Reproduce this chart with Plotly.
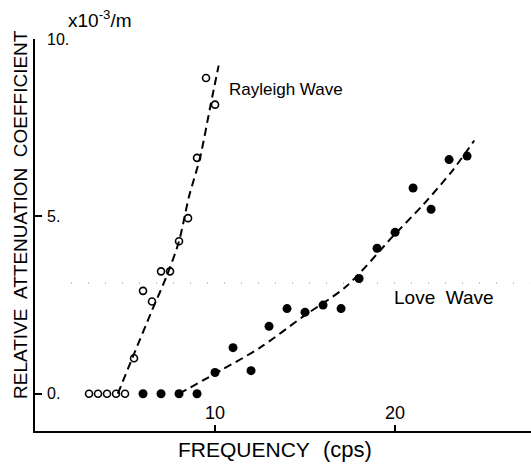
import plotly.graph_objects as go

# Rayleigh wave: measured attenuation (open circles)
rayleigh_freq = [3.0, 3.5, 4.0, 4.5, 5.0, 5.5, 6.0, 6.5, 7.0, 7.5, 8.0, 8.5, 9.0, 9.5, 10.0]
rayleigh_atten = [0.0, 0.0, 0.0, 0.0, 0.0, 1.0, 2.9, 2.6, 3.45, 3.45, 4.3, 4.95, 6.65, 8.9, 8.15]

# Rayleigh wave: fitted trend (dashed)
rayleigh_fit_freq = [4.6, 5.4, 6.5, 7.3, 8.0, 8.55, 9.17, 9.76, 10.2]
rayleigh_fit_atten = [0.0, 1.0, 2.35, 3.3, 4.3, 5.55, 6.66, 8.16, 9.25]

# Love wave: measured attenuation (filled circles)
love_freq = [6, 7, 8, 9, 10, 11, 12, 13, 14, 15, 16, 17, 18, 19, 20, 21, 22, 23, 24]
love_atten = [0.0, 0.0, 0.0, 0.0, 0.6, 1.3, 0.65, 1.9, 2.4, 2.3, 2.5, 2.4, 3.25,
              4.1, 4.55, 5.8, 5.2, 6.6, 6.7]

# Love wave: fitted trend (dashed)
love_fit_freq = [8.0, 10.4, 12.5, 14.9, 17.3, 19.9, 21.6, 23.2, 24.4]
love_fit_atten = [0.0, 0.68, 1.3, 2.18, 3.03, 4.45, 5.35, 6.3, 7.14]

y_ticks = [0, 5, 10]
y_tick_text = ["0.", "5.", "10."]
x_ticks = [10, 20]
x_tick_text = ["10", "20"]

SANS = "Liberation Sans"
dash = "8px,5px"

# plot-area geometry in pixels
W, H = 531, 464
L, R, T, B = 35, 0, 39, 33
PW, PH = W - L - R, H - T - B


def px_x(px):
    return (px - L) / PW


def px_y(py):
    return 1 - (py - T) / PH


fig = go.Figure()

for fx, fy in ((rayleigh_fit_freq, rayleigh_fit_atten), (love_fit_freq, love_fit_atten)):
    fig.add_trace(go.Scatter(
        x=fx, y=fy, mode="lines",
        line=dict(color="black", width=2, dash=dash, shape="spline", smoothing=0.8),
        hoverinfo="skip"))

fig.add_trace(go.Scatter(
    x=rayleigh_freq, y=rayleigh_atten, mode="markers",
    marker=dict(symbol="circle-open", size=7, color="black", line=dict(width=1.6))))
fig.add_trace(go.Scatter(
    x=love_freq, y=love_atten, mode="markers",
    marker=dict(symbol="circle", size=9, color="black")))

# faint dotted trace across the sheet
fig.add_shape(type="line", xref="x", yref="y", x0=2.0, x1=27.5, y0=3.12, y1=3.12,
              line=dict(color="#8a8a8a", width=1, dash="1px,16px"), layer="below")


def label(text, x, y, size, xref="paper", yref="paper", xanchor="left", **kw):
    fig.add_annotation(text=text, x=x, y=y, xref=xref, yref=yref,
                       showarrow=False, xanchor=xanchor, yanchor="middle",
                       font=dict(family=SANS, size=size, color="black"), **kw)


# tick labels sit inside the axes, next to the ticks
for v, t in zip(y_ticks, y_tick_text):
    label(t, px_x(45), v, 16, yref="y")
for v, t in zip(x_ticks, x_tick_text):
    label(t, v, px_y(413), 18, xref="x", xanchor="center")

label("Rayleigh Wave", px_x(227), px_y(90), 17)
label("Love  Wave", px_x(392), px_y(297), 19)
label("x10<sup>-3</sup>/m", px_x(66), px_y(19), 19)

# axis titles
label("RELATIVE  ATTENUATION  COEFFICIENT", px_x(20), px_y(215), 19,
      xanchor="center", textangle=-90)
label("FREQUENCY", px_x(176), px_y(449), 21)
label("(cps)", px_x(374), px_y(449), 22, xanchor="right")

fig.update_layout(
    width=W, height=H,
    margin=dict(l=L, r=R, t=T, b=B),
    plot_bgcolor="white", paper_bgcolor="white",
    showlegend=False,
    xaxis=dict(
        range=[0, 27.55], showgrid=False, zeroline=False,
        showline=True, linecolor="black", linewidth=2,
        tickmode="array", tickvals=x_ticks, ticktext=["", ""],
        ticks="inside", ticklen=6, tickwidth=1.5, tickcolor="black",
    ),
    yaxis=dict(
        range=[-1.05, 10.0], showgrid=False, zeroline=False,
        showline=True, linecolor="black", linewidth=2,
        tickmode="array", tickvals=y_ticks, ticktext=["", "", ""],
        ticks="inside", ticklen=7, tickwidth=1.5, tickcolor="black",
    ),
)

fig.write_html("out.html")
